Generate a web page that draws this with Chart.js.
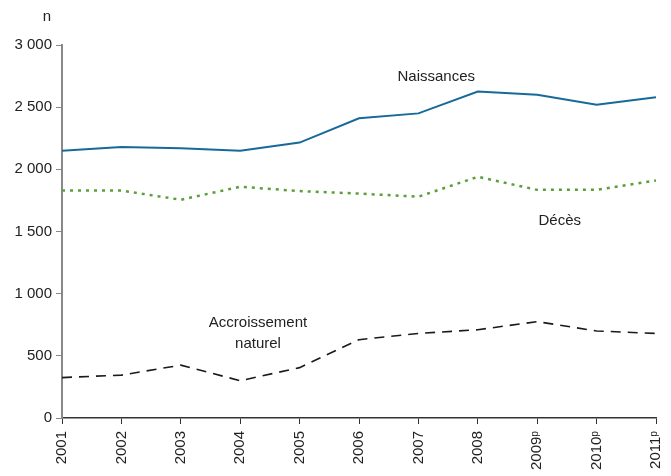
<!DOCTYPE html>
<html>
<head>
<meta charset="utf-8">
<script src="https://cdn.jsdelivr.net/npm/chart.js@4"></script>
<style>
    html, body { margin: 0; padding: 0; background: #fff; }
    #wrap { width: 671px; height: 476px; }
</style>
</head>
<body>
<div id="wrap"><canvas id="lineChart" width="671" height="476"></canvas></div>
<script>
// data
const years = ['2001', '2002', '2003', '2004', '2005', '2006', '2007', '2008', '2009\u1D56', '2010\u1D56', '2011\u1D56'];
const naissances = [2150, 2180, 2170, 2150, 2215, 2410, 2450, 2625, 2600, 2520, 2580];
const deces = [1830, 1830, 1755, 1860, 1825, 1805, 1780, 1940, 1835, 1835, 1910];
const accroissement = [325, 345, 425, 300, 405, 630, 680, 710, 775, 700, 680];
const yTicks = [0, 500, 1000, 1500, 2000, 2500, 3000];

const FONT = '"Liberation Sans", Arial, sans-serif';

// labels drawn on the chart, placed in data coordinates
const labelPlugin = {
    id: 'labels',
    afterDraw(chart) {
        const c = chart.ctx;
        const x = chart.scales.x, y = chart.scales.y;
        c.save();
        c.fillStyle = '#222';
        c.font = '15px ' + FONT;
        c.textAlign = 'center';
        c.textBaseline = 'middle';
        c.fillText('Naissances', x.getPixelForValue(6.3), y.getPixelForValue(2740));
        c.fillText('Décès', x.getPixelForValue(8.38), y.getPixelForValue(1585));
        c.fillText('Accroissement', x.getPixelForValue(3.3), y.getPixelForValue(765));
        c.fillText('naturel', x.getPixelForValue(3.3), y.getPixelForValue(600));
        c.fillText('n', 47, 17);
        c.restore();
    }
};

const ctx = document.getElementById('lineChart').getContext('2d');
const lineChart = new Chart(ctx, {
    type: 'line',
    data: {
        labels: years,
        datasets: [{
            label: 'Naissances',
            data: naissances,
            borderColor: '#17699a',
            borderWidth: 2,
            pointRadius: 0,
            tension: 0
        }, {
            label: 'Décès',
            data: deces,
            borderColor: '#5c9e3c',
            borderWidth: 2.5,
            borderDash: [3, 5],
            pointRadius: 0,
            tension: 0
        }, {
            label: 'Accroissement naturel',
            data: accroissement,
            borderColor: '#1a1a1a',
            borderWidth: 1.6,
            borderDash: [10, 7],
            pointRadius: 0,
            tension: 0
        }]
    },
    options: {
        responsive: false,
        animation: false,
        layout: { padding: { top: 45, right: 15, left: 0, bottom: 0 } },
        plugins: { legend: { display: false }, tooltip: { enabled: false } },
        scales: {
            x: {
                offset: false,
                grid: { drawOnChartArea: false, tickLength: 6, color: '#333', lineWidth: 1 },
                border: { color: '#333', width: 1.5 },
                ticks: {
                    maxRotation: 90, minRotation: 90, autoSkip: false,
                    color: '#222', font: { family: FONT, size: 15 }, padding: 7
                },
                afterFit(scale) {
                    scale.height = 58;
                    scale.paddingLeft = 0;
                    scale.paddingRight = 0;
                }
            },
            y: {
                min: 0, max: 3000,
                afterBuildTicks(scale) { scale.ticks = yTicks.map(v => ({ value: v })); },
                grid: { drawOnChartArea: false, tickLength: 6, color: '#888', lineWidth: 1 },
                border: { color: '#888', width: 2 },
                ticks: {
                    color: '#222', font: { family: FONT, size: 15 }, padding: 4,
                    callback: v => v.toLocaleString('en-US').replace(/,/g, ' ')
                },
                afterFit(scale) { scale.width = 62; }
            }
        }
    },
    plugins: [labelPlugin]
});
</script>
</body>
</html>
